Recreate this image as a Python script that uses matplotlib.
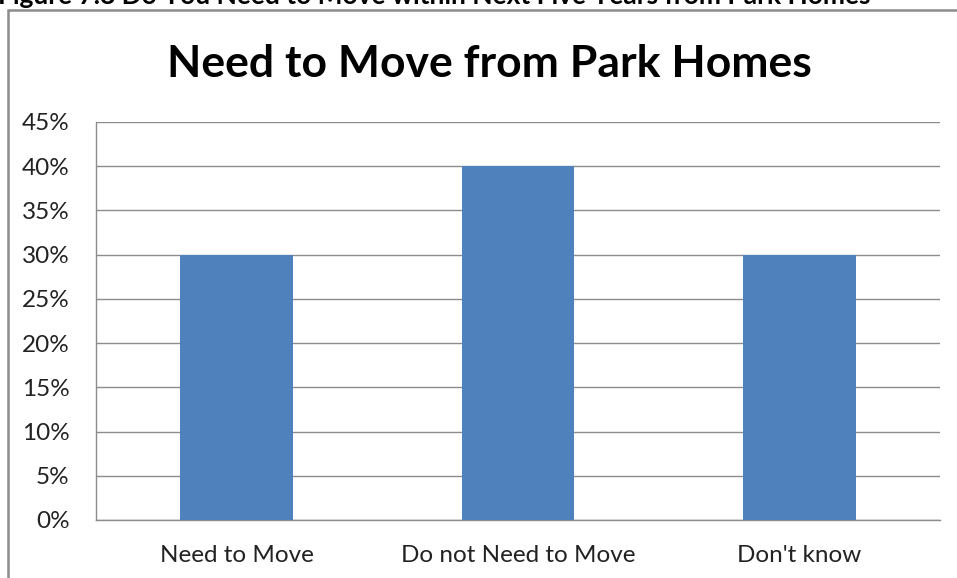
import matplotlib.pyplot as plt
from matplotlib.patches import Rectangle
from matplotlib.ticker import FuncFormatter, MultipleLocator

categories = ['Need to Move', 'Do not Need to Move', "Don't know"]
values = [30, 40, 30]

plt.rcParams['font.family'] = ['Lato', 'DejaVu Sans']

fig = plt.figure(figsize=(9.57, 5.78), dpi=100)
W, H = 957, 578

# caption of the figure, cropped at the top edge as in the source
fig.text(-2 / W, 1 - 4 / H, 'Figure 7.8 Do You Need to Move within Next Five Years from Park Homes',
         fontsize=19, fontweight='bold', va='baseline', ha='left', color='black')

# chart frame (right/bottom run off the image)
fig.patches.append(Rectangle((8 / W, -0.05), 1.0, 1 - 10 / H + 0.05,
                             transform=fig.transFigure, fill=False,
                             edgecolor='#8c8c8c', linewidth=1.8))

ax = fig.add_axes([96 / W, 1 - 520 / H, (940 - 96) / W, (520 - 122) / H])
ax.bar(range(len(categories)), values, width=0.4, color='#4f81bd', zorder=3)

ax.set_xlim(-0.5, len(categories) - 0.5)
ax.set_ylim(0, 45)
ax.yaxis.set_major_locator(MultipleLocator(5))
ax.yaxis.set_major_formatter(FuncFormatter(lambda v, p: f'{v:.0f}%'))
ax.grid(axis='y', color='#8c8c8c', linewidth=1, zorder=0)
ax.set_xticks(range(len(categories)))
ax.set_xticklabels(categories)
ax.tick_params(axis='both', length=0, labelsize=17.5, colors='#222222')
ax.tick_params(axis='y', pad=19)
ax.tick_params(axis='x', pad=18)
for s in ['top', 'right']:
    ax.spines[s].set_visible(False)
for s in ['left', 'bottom']:
    ax.spines[s].set_color('#8c8c8c')
    ax.spines[s].set_linewidth(1)

fig.text(489 / W, 1 - 64 / H, 'Need to Move from Park Homes', fontsize=32,
         fontweight='bold', ha='center', va='center', color='black')

fig.savefig('out.png', dpi=100)
